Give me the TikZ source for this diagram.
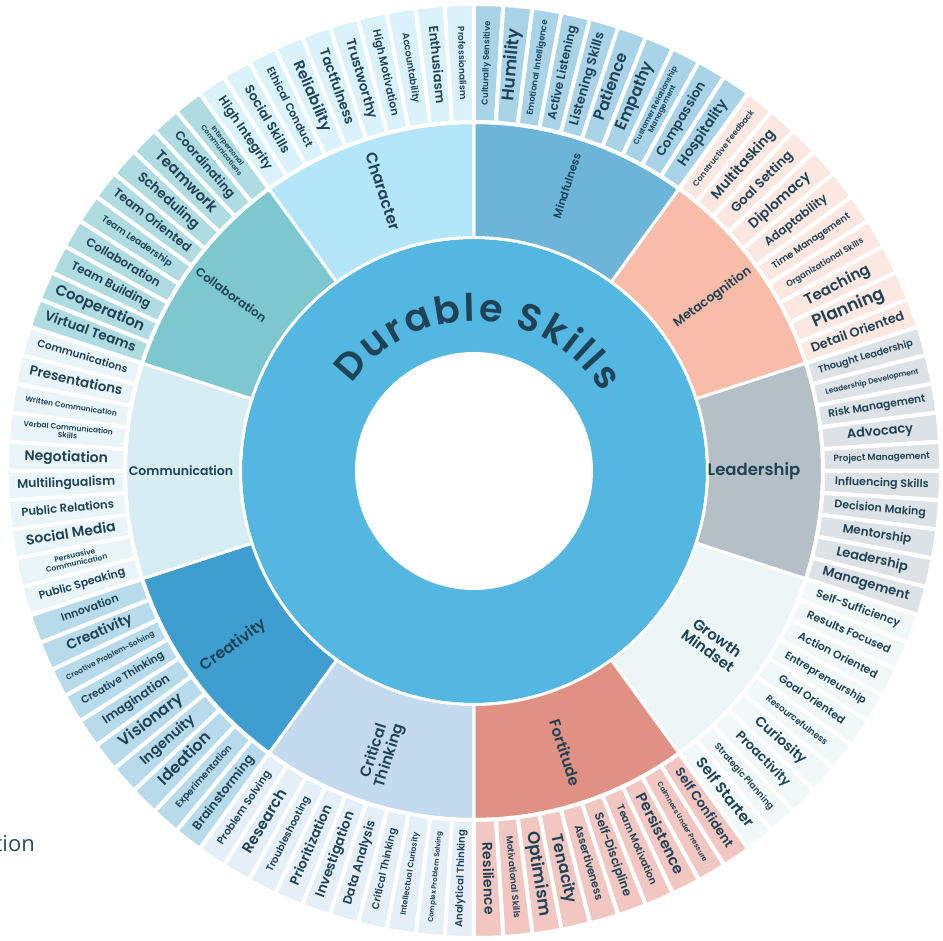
\documentclass[tikz,border=0pt]{standalone}
\usepackage{fontspec}
\setmainfont{Poppins}[BoldFont={Poppins SemiBold}]
\newfontfamily\pagefont{Open Sans}
\definecolor{txt}{HTML}{1F4256}
\definecolor{tioncol}{HTML}{2E4B5E}
\definecolor{mid}{HTML}{53B7E1}
\definecolor{cat0}{HTML}{6CB4D8}\definecolor{out0}{HTML}{A9D4E8}
\definecolor{cat1}{HTML}{F8BCA8}\definecolor{out1}{HTML}{FDE7E1}
\definecolor{cat2}{HTML}{B5C0C6}\definecolor{out2}{HTML}{DCE2E5}
\definecolor{cat3}{HTML}{EDF6F6}\definecolor{out3}{HTML}{F0F8F8}
\definecolor{cat4}{HTML}{E19084}\definecolor{out4}{HTML}{F2C6C1}
\definecolor{cat5}{HTML}{C4DAEE}\definecolor{out5}{HTML}{E4EFF8}
\definecolor{cat6}{HTML}{3E9ECF}\definecolor{out6}{HTML}{B7DBEB}
\definecolor{cat7}{HTML}{D7EDF4}\definecolor{out7}{HTML}{E9F5F9}
\definecolor{cat8}{HTML}{7DC8CF}\definecolor{out8}{HTML}{AFDCE1}
\definecolor{cat9}{HTML}{B4E6F9}\definecolor{out9}{HTML}{D9F2FC}
\newsavebox\lblbox
\newcommand\fitlbl[2]{\sbox\lblbox{\fontsize{#1}{#1}\selectfont\bfseries\begin{tabular}{@{}c@{}}#2\end{tabular}}%
\ifdim\wd\lblbox>98pt\resizebox{98pt}{!}{\usebox\lblbox}\else\usebox\lblbox\fi}
\newcommand\titlefont{\fontsize{38}{38}\selectfont\bfseries}
\newlength\lw
\def\lsp{2.8}
\def\wgap{11}
\def\trad{150}
\def\tcen{88}
\tikzset{
 catsector/.style={draw=white,line width=3pt},
 outsector/.style={draw=white,line width=4pt},
 skilllbl/.style={text=txt,inner sep=0pt},
 catlbl/.style={text=txt,inner sep=0pt,align=center,font=\bfseries},
 titlechar/.style={text=txt,inner sep=0pt,anchor=base,font=\titlefont},
}
\begin{document}
% measure the title letters outside the picture
\gdef\tot{0}%
\foreach \lt [count=\k] in {D,u,r,a,b,l,e,S,k,i,l,l,s}{%
  \settowidth\lw{\titlefont\lt}%
  \expandafter\xdef\csname tw\k\endcsname{\the\lw}%
  \pgfmathsetmacro\tmp{\tot+\the\lw+\lsp}%
  \xdef\tot{\tmp}%
}%
\pgfmathsetmacro\totw{\tot-\lsp+\wgap}%
\xdef\totw{\totw}%
\begin{tikzpicture}[x=1pt,y=1pt]
\useasboundingbox (-474,-470) rectangle (469,471);
\fill[mid] (0,0) circle (232);
\fill[white] (0,0) circle (119);
\foreach \ci in {0,...,9}{
  \pgfmathsetmacro\aa{90-36*\ci}
  \pgfmathsetmacro\bb{\aa-36}
  \path[catsector,fill=cat\ci] (\aa:233.5) arc[start angle=\aa,end angle=\bb,radius=233.5]
     -- (\bb:348.5) arc[start angle=\bb,end angle=\aa,radius=348.5] -- cycle;
}
\foreach \i in {0,...,99}{
  \pgfmathtruncatemacro\ci{floor(\i/10)}
  \pgfmathsetmacro\aa{90-3.6*\i}
  \pgfmathsetmacro\bb{\aa-3.6}
  \path[outsector,fill=out\ci] (\aa:349) arc[start angle=\aa,end angle=\bb,radius=349]
     -- (\bb:467) arc[start angle=\bb,end angle=\aa,radius=467] -- cycle;
}
\foreach \s/\t [count=\i from 0] in {
 8.5/Culturally Sensitive, 17/Humility, 8.5/Emotional Intelligence, 12/Active Listening, 13/Listening Skills,
 16/Patience, 16/Empathy, 7.5/Customer Relationship\\Management, 13/Compassion, 14/Hospitality,
 8/Constructive Feedback, 14/Multitasking, 13/Goal Setting, 14/Diplomacy, 12/Adaptability,
 9.5/Time Management, 8.5/Organizational Skills, 15/Teaching, 17/Planning, 13/Detail Oriented,
 10.5/Thought Leadership, 7.5/Leadership Development, 12/Risk Management, 13/Advocacy, 9/Project Management,
 11/Influencing Skills, 11/Decision Making, 12/Mentorship, 13/Leadership, 13/Management,
 11/Self-Sufficiency, 11/Results Focused, 11/Action Oriented, 10.5/Entrepreneurship, 11/Goal Oriented,
 9/Resourcefulness, 14/Curiosity, 13/Proactivity, 9/Strategic Planning, 15/Self Starter,
 13/Self Confident, 7/Calmness Under Pressure, 15/Persistence, 10/Team Motivation, 12/Self-Discipline,
 11/Assertiveness, 16/Tenacity, 17/Optimism, 9/Motivational Skills, 14/Resilience,
 10/Analytical Thinking, 7/Complex Problem Solving, 8/Intellectual Curiosity, 10/Critical Thinking, 12.5/Data Analysis,
 13.5/Investigation, 13.5/Prioritization, 10/Troubleshooting, 15/Research, 10.5/Problem Solving,
 12.5/Brainstorming, 9.5/Experimentation, 16/Ideation, 14/Ingenuity, 16/Visionary,
 12.5/Imagination, 10.5/Creative Thinking, 7.5/Creative Problem-Solving, 14/Creativity, 11/Innovation,
 11/Public Speaking, 7.5/Persuasive\\Communication, 14/Social Media, 11.5/Public Relations, 12.5/Multilingualism,
 14/Negotiation, 7.5/Verbal Communication\\Skills, 7.5/Written Communication, 13.5/Presentations, 10.5/Communications,
 13.5/Virtual Teams, 15/Cooperation, 12/Team Building, 12/Collaboration, 9.5/Team Leadership,
 12.5/Team Oriented, 13.5/Scheduling, 15/Teamwork, 12.5/Coordinating, 7/Interpersonal\\Communications,
 12.5/High Integrity, 13/Social Skills, 11/Ethical Conduct, 15/Reliability, 13.5/Tactfulness,
 13.5/Trustworthy, 11/High Motivation, 9.5/Accountability, 13/Enthusiasm, 9/Professionalism}{
  \pgfmathsetmacro\th{3.6*\i+1.8}
  \pgfmathsetmacro\ph{90-\th}
  \pgfmathsetmacro\rot{\th<180 ? 90-\th : 270-\th}
  \node[skilllbl,rotate=\rot] (lbl\i) at (\ph:408) {\fitlbl{\s}{\t}};
}
% category labels
\node[catlbl,rotate=72,font=\bfseries\fontsize{11}{11}\selectfont] (cmind) at (72:300) {Mindfulness};
\node[catlbl,rotate=36,font=\bfseries\fontsize{12.5}{12.5}\selectfont] (cmeta) at (36:295) {Metacognition};
\node[catlbl,font=\bfseries\fontsize{16.5}{16.5}\selectfont] (clead) at (0:280) {Leadership};
\node[catlbl,rotate=-36,font=\bfseries\fontsize{15}{16}\selectfont] (cgrow) at (-36:295) {Growth\\Mindset};
\node[catlbl,rotate=-72,font=\bfseries\fontsize{15}{15}\selectfont] (cfort) at (-72:296) {Fortitude};
\node[catlbl,rotate=72,font=\bfseries\fontsize{15}{16}\selectfont] (ccrit) at (-108:297) {Critical\\Thinking};
\node[catlbl,rotate=36,font=\bfseries\fontsize{15.5}{15.5}\selectfont] (ccrea) at (-144:297) {Creativity};
\node[catlbl,font=\bfseries\fontsize{12.5}{12.5}\selectfont] (ccomm) at (180:293) {Communication};
\node[catlbl,rotate=-36,font=\bfseries\fontsize{12}{12}\selectfont] (ccoll) at (144:300) {Collaboration};
\node[catlbl,rotate=-72,font=\bfseries\fontsize{15.5}{15.5}\selectfont] (cchar) at (108:294) {Character};
% title, letter by letter along an arc
\gdef\cum{0}
\foreach \lt [count=\k] in {D,u,r,a,b,l,e,S,k,i,l,l,s}{
  \edef\wk{\csname tw\k\endcsname}
  \pgfmathsetmacro\extra{\k==8 ? \wgap : 0}
  \pgfmathsetmacro\ctr{\cum+\extra+0.5*\wk}
  \pgfmathsetmacro\ang{\tcen+(0.5*\totw-\ctr)/\trad*180/pi}
  \node[titlechar,rotate=\ang-90] (title\k) at (\ang:\trad) {\lt};
  \pgfmathsetmacro\tmp{\cum+\extra+\wk+\lsp}
  \xdef\cum{\tmp}
}
\node[anchor=base east,text=tioncol,inner sep=0pt,font=\pagefont\fontsize{22}{22}\selectfont] (tion) at (-439,-381) {tion};
\end{tikzpicture}
\end{document}
